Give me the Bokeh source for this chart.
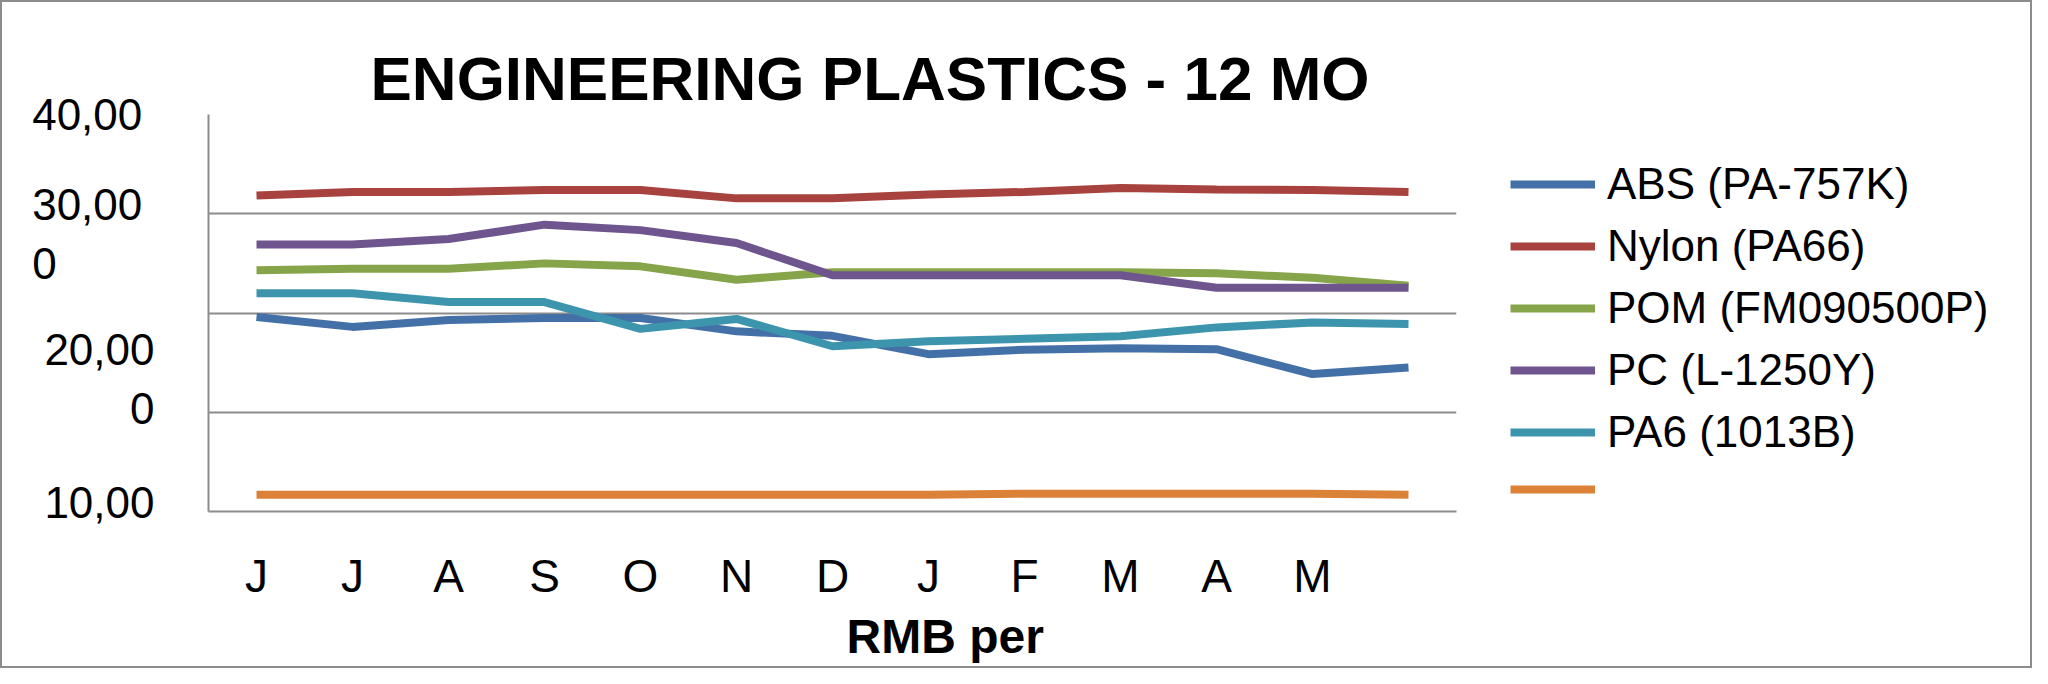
from bokeh.plotting import figure
from bokeh.models import FixedTicker, Legend, LegendItem, Title
from bokeh.layouts import row
from bokeh.embed import file_html
from bokeh.resources import INLINE
from bokeh.core.properties import value

# ---------------- data ----------------
months = ["J", "J", "A", "S", "O", "N", "D", "J", "F", "M", "A", "M", ""]
abs_pa757k = [19600, 18600, 19300, 19500, 19500, 18150, 17700, 15850, 16300, 16450, 16350, 13850, 14500]
nylon_pa66 = [31850, 32200, 32200, 32400, 32400, 31550, 31550, 31950, 32200, 32600, 32450, 32400, 32200]
pom_fm090500p = [24300, 24450, 24450, 25000, 24700, 23350, 24100, 24100, 24100, 24100, 24000, 23550, 22750]
pc_l1250y = [26900, 26900, 27450, 28900, 28350, 27050, 23800, 23800, 23800, 23800, 22550, 22550, 22550]
pa6_1013b = [22000, 22000, 21100, 21100, 18400, 19400, 16650, 17150, 17400, 17650, 18550, 19050, 18900]
unnamed = [1700, 1700, 1700, 1700, 1700, 1700, 1700, 1700, 1800, 1800, 1800, 1800, 1700]

series_names = ["ABS (PA-757K)", "Nylon (PA66)", "POM (FM090500P)", "PC (L-1250Y)", "PA6 (1013B)", ""]
series_values = [abs_pa757k, nylon_pa66, pom_fm090500p, pc_l1250y, pa6_1013b, unnamed]
series_colors = ["#4470A8", "#A8423F", "#86A44A", "#6E558E", "#3D95AD", "#DB8238"]

grid_values = [0, 10000, 20000, 30000, 40000]
# y tick labels as they appear (wrapped) in the chart, and where they sit
NB = "\u00a0"
y_label_texts = ["40,00" + NB, "30,00" + NB + "\n0" + NB * 8, "20,00\n" + NB * 7 + "0", "10,00"]
y_label_at = [40000, 27960, 13350, 910]

title_text = "ENGINEERING PLASTICS - 12 MO"
x_title_text = "RMB per"

# ---------------- layout ----------------
W, H = 2028, 664          # whole chart (inside a 2px border)
MW = 1480                 # width of the plotting part; the legend takes the rest
FL, FR, FT, FB = 206, 1454, 112, 509  # frame edges in figure pixels
NCAT = len(months)
YMAX = 40000
FONT = "Liberation Sans"
GRAY = "#8c8c8c"

p = figure(width=MW, height=H, output_backend="svg", toolbar_location=None,
           x_range=(-0.5, NCAT - 0.5), y_range=(0, YMAX),
           min_border_left=FL, min_border_right=MW - FR,
           min_border_top=FT, min_border_bottom=H - FB)
p.outline_line_color = None

p.title.text = title_text
p.title.align = "left"
p.title.offset = 162
p.title.text_font = FONT
p.title.text_font_style = "bold"
p.title.text_font_size = "62px"
p.title.text_color = "black"
p.title.standoff = 4

xs = list(range(NCAT))
for vals, col in zip(series_values, series_colors):
    p.line(xs, vals, line_color=col, line_width=8)

# x axis
p.xaxis.ticker = FixedTicker(ticks=xs)
p.xaxis.major_label_overrides = {i: m for i, m in enumerate(months)}
p.xaxis.major_label_text_font = FONT
p.xaxis.major_label_text_font_size = "46px"
p.xaxis.major_label_text_color = "black"
p.xaxis.major_tick_line_color = None
p.xaxis.minor_tick_line_color = None
p.xaxis.major_tick_out = 0
p.xaxis.major_label_standoff = 38
p.xaxis.axis_line_color = GRAY
p.xaxis.axis_line_width = 2

# y axis
p.yaxis.ticker = FixedTicker(ticks=y_label_at)
p.yaxis.major_label_overrides = dict(zip(y_label_at, y_label_texts))
p.yaxis.major_label_text_font = FONT
p.yaxis.major_label_text_font_size = "44px"
p.yaxis.major_label_text_color = "black"
p.yaxis.major_tick_line_color = None
p.yaxis.minor_tick_line_color = None
p.yaxis.major_tick_out = 0
p.yaxis.major_label_standoff = 54
p.yaxis.axis_line_color = GRAY
p.yaxis.axis_line_width = 2

p.xgrid.grid_line_color = None
p.ygrid.ticker = FixedTicker(ticks=grid_values)
p.ygrid.grid_line_color = GRAY
p.ygrid.grid_line_width = 2

# x axis title (offset to the right as in the original)
xt = Title(text=x_title_text, align="left", offset=638, text_font=FONT,
           text_font_style="bold", text_font_size="48px", text_color="black", standoff=6)
p.add_layout(xt, "below")

# ---------------- legend panel ----------------
# same series, drawn outside this panel's visible range: only their legend entries show
lg = figure(width=W - MW, height=H, output_backend="svg", toolbar_location=None,
            x_range=(-100, -99), y_range=(0, YMAX), min_border=0,
            x_axis_type=None, y_axis_type=None)
lg.grid.visible = False
lg.outline_line_color = None
items = []
for name, vals, col in zip(series_names, series_values, series_colors):
    r = lg.line(xs, vals, line_color=col, line_width=8)
    items.append(LegendItem(label=value(name), renderers=[r]))

legend = Legend(items=items, location=(28, 2), orientation="vertical",
                label_text_font=FONT, label_text_font_size="44px", label_text_color="black",
                glyph_width=85, glyph_height=40, label_height=40, label_standoff=12,
                spacing=12, padding=0, margin=0,
                border_line_color=None, background_fill_alpha=0)
lg.add_layout(legend, "center")

layout = row(p, lg, spacing=0)
layout.styles = {"border": "2px solid #8c8c8c", "background-color": "white"}

open("out.html", "w").write(file_html(layout, INLINE))
